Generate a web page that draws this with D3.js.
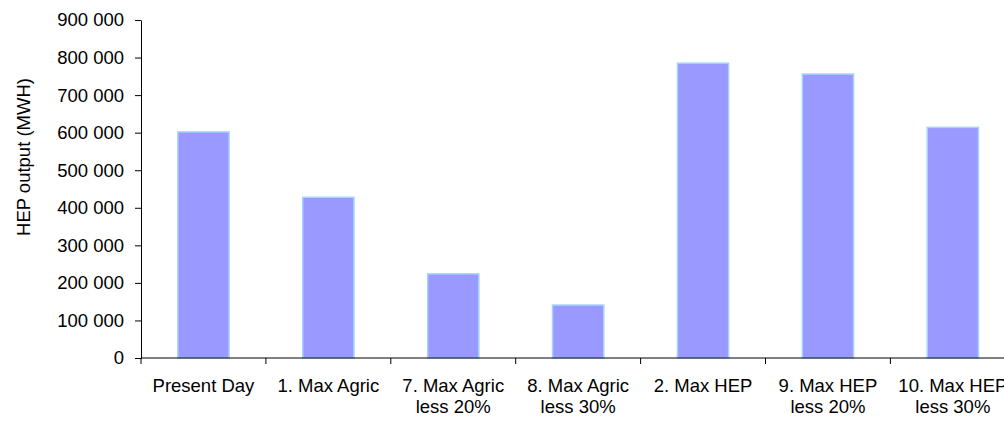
<!DOCTYPE html>
<html>
<head>
<meta charset="utf-8">
<script src="https://cdn.jsdelivr.net/npm/d3@7"></script>
<style>
  html, body { margin: 0; padding: 0; background: #fff; }
  svg { display: block; font-family: "Liberation Sans", Arial, sans-serif; }
</style>
</head>
<body>
<svg id="chart" width="1004" height="421"></svg>
<script>
// Scenario names (each split into display lines) and hydro-electric output
const scenarios = [
  ["Present Day"],
  ["1. Max Agric"],
  ["7. Max Agric", "less 20%"],
  ["8. Max Agric", "less 30%"],
  ["2. Max HEP"],
  ["9. Max HEP", "less 20%"],
  ["10. Max HEP", "less 30%"]
];
const hepOutput = [602000, 428000, 224000, 141000, 785000, 756000, 614000];
const yTicks = [0, 100000, 200000, 300000, 400000, 500000, 600000, 700000, 800000, 900000];
const yTitle = "HEP output (MWH)";

const svg = d3.select("#chart");
const plotLeft = 141, plotBottom = 358, plotTop = 20, bandW = 124.9;
const fontSize = "18.5px";
const keys = scenarios.map((d, i) => i);

const x = d3.scaleBand()
  .domain(keys)
  .range([plotLeft, plotLeft + bandW * keys.length])
  .paddingInner(0.59)
  .paddingOuter(0.295);

const y = d3.scaleLinear().domain([0, 900000]).range([plotBottom, plotTop]);

const fmt = v => d3.format(",")(v).replace(/,/g, " ");

// Bars
svg.append("g").selectAll("rect")
  .data(hepOutput)
  .join("rect")
  .attr("x", (d, i) => x(i))
  .attr("y", d => y(d))
  .attr("width", x.bandwidth())
  .attr("height", d => plotBottom - y(d))
  .attr("fill", "#9999ff")
  .attr("stroke", "#a6d2ff")
  .attr("stroke-width", 1.5);

// Y axis
const yAxis = d3.axisLeft(y).tickValues(yTicks).tickFormat(fmt).tickSize(6).tickSizeOuter(0);
const gy = svg.append("g").attr("transform", `translate(${plotLeft},0)`).call(yAxis);
gy.select(".domain").attr("stroke", "#000");
gy.selectAll(".tick line").attr("stroke", "#000");
gy.selectAll(".tick text")
  .attr("x", -17)
  .attr("fill", "#000")
  .style("font-size", fontSize);

// X axis: baseline with category dividers
const xEdges = d3.range(keys.length + 1).map(i => plotLeft + i * bandW);
const gx = svg.append("g");
gx.append("line")
  .attr("x1", plotLeft).attr("x2", plotLeft + bandW * keys.length)
  .attr("y1", plotBottom).attr("y2", plotBottom)
  .attr("stroke", "#000");
gx.selectAll("line.div")
  .data(xEdges)
  .join("line")
  .attr("class", "div")
  .attr("x1", d => d).attr("x2", d => d)
  .attr("y1", plotBottom).attr("y2", plotBottom + 6)
  .attr("stroke", "#000");

// Category labels
const lab = svg.append("g").selectAll("text")
  .data(scenarios)
  .join("text")
  .attr("x", (d, i) => x(i) + x.bandwidth() / 2)
  .attr("y", 392)
  .attr("text-anchor", "middle")
  .attr("fill", "#000")
  .style("font-size", fontSize);
lab.selectAll("tspan")
  .data(d => d)
  .join("tspan")
  .attr("x", function () { return d3.select(this.parentNode).attr("x"); })
  .attr("dy", (d, i) => i === 0 ? 0 : 21)
  .text(d => d);

// Y axis title
svg.append("text")
  .attr("transform", "translate(30, 157) rotate(-90)")
  .attr("text-anchor", "middle")
  .attr("fill", "#000")
  .style("font-size", fontSize)
  .text(yTitle);
</script>
</body>
</html>
